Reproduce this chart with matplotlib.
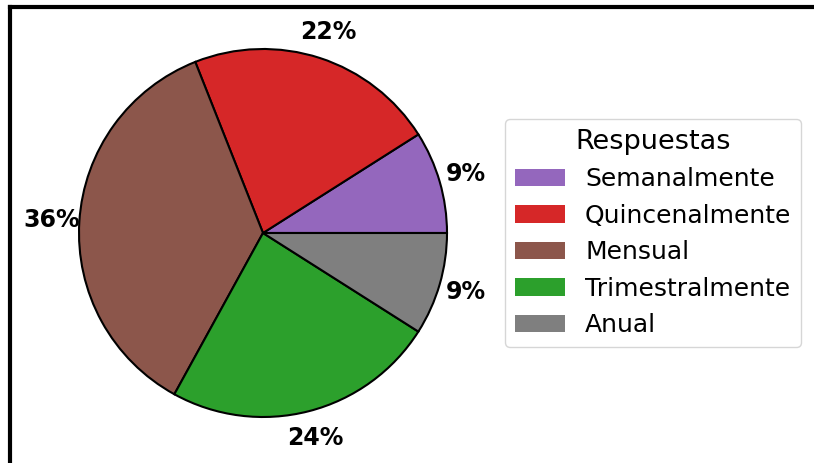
import matplotlib.pyplot as plt
from matplotlib.patches import Patch
from matplotlib.lines import Line2D

# datos (porcentaje de respuestas)
labels = ["Semanalmente", "Quincenalmente", "Mensual", "Trimestralmente", "Anual"]
values = [9, 22, 36, 24, 9]
colors = ["tab:purple", "tab:red", "tab:brown", "tab:green", "tab:gray"]

fig = plt.figure(figsize=(8.14, 4.63), dpi=100)
ax = fig.add_axes([33 / 814, 0 / 463, 460 / 814, 460 / 463])

wedges, texts, autotexts = ax.pie(values, colors=colors, startangle=0,
                                  autopct="%1.0f%%", pctdistance=1.15,
                                  wedgeprops={"edgecolor": "black", "linewidth": 1.5},
                                  textprops={"fontsize": 17, "fontweight": "bold"})
ax.set_xlim(-1.25, 1.25)
ax.set_ylim(-1.25, 1.25)
ax.set_aspect("equal")

handles = [Patch(facecolor=c, label=l) for c, l in zip(colors, labels)]
fig.legend(handles=handles, title="Respuestas", loc="center left",
           bbox_to_anchor=(505 / 814, 0.497), borderaxespad=0,
           fontsize=18, title_fontsize=19.5)

# borde de la captura
fig.add_artist(Line2D([10 / 814, 1], [1 - 7 / 463, 1 - 7 / 463], color="black", lw=3,
                      transform=fig.transFigure))
fig.add_artist(Line2D([10 / 814, 10 / 814], [0, 1 - 7 / 463], color="black", lw=3,
                      transform=fig.transFigure))

fig.savefig("out.png", dpi=100)
